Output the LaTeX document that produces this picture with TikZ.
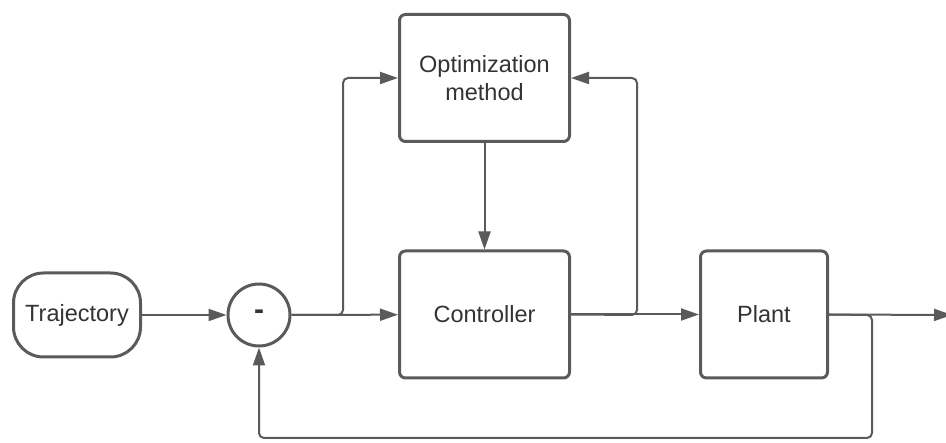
\documentclass[tikz,border=0pt]{standalone}
\usepackage{fontspec}
\setmainfont{Liberation Sans}
\usetikzlibrary{arrows.meta}
\definecolor{ln}{HTML}{5A5A5A}
\definecolor{tx}{HTML}{333333}
\tikzset{
  blk/.style={draw=ln, line width=3pt, rounded corners=6pt, minimum width=170pt, minimum height=127pt, align=center, text=tx, font=\fontsize{23.5}{28}\selectfont, inner sep=0pt},
  term/.style={draw=ln, line width=3pt, rounded corners=30pt, minimum width=127pt, minimum height=84pt, text=tx, font=\fontsize{23.5}{28}\selectfont},
  sumnode/.style={draw=ln, line width=3pt, circle, minimum size=62pt, inner sep=0pt, text=tx, font=\bfseries\fontsize{30}{32}\selectfont},
  conn/.style={draw=ln, line width=2pt, -{Triangle[length=18pt,width=12pt]}, rounded corners=5pt},
  plainln/.style={draw=ln, line width=2pt, rounded corners=5pt}
}
\begin{document}
\begin{tikzpicture}[x=1pt,y=-1pt]
\useasboundingbox (0,0) rectangle (946,443);
\node[term] (traj) at (77,315) {Trajectory};
\node[sumnode] (sum) at (259,315) {-};
\node[blk] (opt) at (484.5,78) {Optimization\\method};
\node[blk] (ctrl) at (484.5,314.5) {Controller};
\node[blk, minimum width=127pt] (plant) at (764,314.5) {Plant};
\coordinate (b1) at (343,315);
\coordinate (b2) at (637,315);
\coordinate (b3) at (872,315);
\coordinate (bot) at (872,438);
\coordinate (out) at (952,315);
\draw[conn] (traj) -- (sum);
\draw[conn] (sum) -- (ctrl);
\draw[conn] (sum.east) -- (b1) |- (opt.west);
\draw[conn] (opt) -- (ctrl);
\draw[conn] (ctrl) -- (plant);
\draw[conn] (ctrl.east) -- (b2) |- (opt.east);
\draw[conn] (plant.east) -- (out);
\draw[conn] (plant.east) -- (b3) -- (bot) -| (sum.south);
\end{tikzpicture}
\end{document}
